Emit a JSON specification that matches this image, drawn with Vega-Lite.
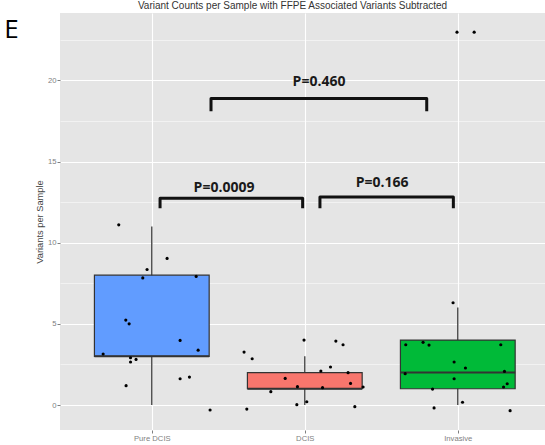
{
  "$schema": "https://vega.github.io/schema/vega-lite/v6.json",
  "width": 485,
  "height": 417,
  "autosize": "none",
  "padding": {"left": 60, "top": 13, "right": 0, "bottom": 15},
  "background": "white",
  "title": {
    "text": "Variant Counts per Sample with FFPE Associated Variants Subtracted",
    "font": "Liberation Sans",
    "fontSize": 10,
    "fontWeight": "normal",
    "color": "#333333",
    "anchor": "middle",
    "dx": -10,
    "offset": 2
  },
  "config": {
    "view": {"fill": "#E5E5E5", "stroke": null},
    "axis": {
      "labelFont": "Liberation Sans",
      "titleFont": "Liberation Sans",
      "labelColor": "#7F7F7F",
      "tickColor": "#7F7F7F",
      "domain": false
    }
  },
  "datasets": {
    "box": [
      {"group": "Pure DCIS", "bx": 1, "lower": 0, "q1": 3, "median": 3, "q3": 8, "upper": 11},
      {"group": "DCIS", "bx": 2, "lower": 0, "q1": 1, "median": 1, "q3": 2, "upper": 3},
      {"group": "Invasive", "bx": 3, "lower": 0, "q1": 1, "median": 2, "q3": 4, "upper": 6}
    ],
    "pts": [
      {"group": "Pure DCIS", "bx": 0.784, "value": 11.10},
      {"group": "Pure DCIS", "bx": 1.100, "value": 9.03},
      {"group": "Pure DCIS", "bx": 0.969, "value": 8.35},
      {"group": "Pure DCIS", "bx": 0.941, "value": 7.83},
      {"group": "Pure DCIS", "bx": 1.290, "value": 7.92},
      {"group": "Pure DCIS", "bx": 0.830, "value": 5.23},
      {"group": "Pure DCIS", "bx": 0.852, "value": 5.00},
      {"group": "Pure DCIS", "bx": 1.185, "value": 3.98},
      {"group": "Pure DCIS", "bx": 1.303, "value": 3.38},
      {"group": "Pure DCIS", "bx": 0.682, "value": 3.14},
      {"group": "Pure DCIS", "bx": 0.861, "value": 2.91},
      {"group": "Pure DCIS", "bx": 0.861, "value": 2.65},
      {"group": "Pure DCIS", "bx": 0.897, "value": 2.81},
      {"group": "Pure DCIS", "bx": 1.185, "value": 1.62},
      {"group": "Pure DCIS", "bx": 1.246, "value": 1.72},
      {"group": "Pure DCIS", "bx": 0.832, "value": 1.19},
      {"group": "Pure DCIS", "bx": 1.381, "value": -0.31},
      {"group": "DCIS", "bx": 1.603, "value": 3.26},
      {"group": "DCIS", "bx": 1.656, "value": 2.85},
      {"group": "DCIS", "bx": 1.995, "value": 4.00},
      {"group": "DCIS", "bx": 2.203, "value": 3.94},
      {"group": "DCIS", "bx": 2.250, "value": 3.71},
      {"group": "DCIS", "bx": 2.168, "value": 2.34},
      {"group": "DCIS", "bx": 2.105, "value": 2.09},
      {"group": "DCIS", "bx": 2.283, "value": 1.99},
      {"group": "DCIS", "bx": 1.872, "value": 1.64},
      {"group": "DCIS", "bx": 2.299, "value": 1.33},
      {"group": "DCIS", "bx": 1.778, "value": 0.82},
      {"group": "DCIS", "bx": 1.952, "value": 1.13},
      {"group": "DCIS", "bx": 2.116, "value": 1.07},
      {"group": "DCIS", "bx": 2.381, "value": 1.11},
      {"group": "DCIS", "bx": 2.013, "value": 0.20},
      {"group": "DCIS", "bx": 1.948, "value": 0.02},
      {"group": "DCIS", "bx": 1.621, "value": -0.25},
      {"group": "DCIS", "bx": 2.327, "value": -0.10},
      {"group": "Invasive", "bx": 2.969, "value": 6.30},
      {"group": "Invasive", "bx": 2.660, "value": 3.71},
      {"group": "Invasive", "bx": 2.773, "value": 3.86},
      {"group": "Invasive", "bx": 2.812, "value": 3.69},
      {"group": "Invasive", "bx": 3.281, "value": 3.71},
      {"group": "Invasive", "bx": 2.976, "value": 2.65},
      {"group": "Invasive", "bx": 3.050, "value": 2.28},
      {"group": "Invasive", "bx": 2.656, "value": 1.93},
      {"group": "Invasive", "bx": 3.305, "value": 2.07},
      {"group": "Invasive", "bx": 2.976, "value": 1.62},
      {"group": "Invasive", "bx": 3.323, "value": 1.31},
      {"group": "Invasive", "bx": 3.299, "value": 1.11},
      {"group": "Invasive", "bx": 2.835, "value": 0.98},
      {"group": "Invasive", "bx": 3.031, "value": 0.17},
      {"group": "Invasive", "bx": 2.845, "value": -0.18},
      {"group": "Invasive", "bx": 3.342, "value": -0.35},
      {"group": "Invasive", "bx": 2.995, "value": 22.97},
      {"group": "Invasive", "bx": 3.107, "value": 22.97}
    ],
    "brk": [
      {"pair": "a", "ord": 1, "bx": 1.054, "by": 12.12},
      {"pair": "a", "ord": 2, "bx": 1.054, "by": 12.74},
      {"pair": "a", "ord": 3, "bx": 1.986, "by": 12.74},
      {"pair": "a", "ord": 4, "bx": 1.986, "by": 12.12},
      {"pair": "b", "ord": 1, "bx": 2.099, "by": 12.12},
      {"pair": "b", "ord": 2, "bx": 2.099, "by": 12.82},
      {"pair": "b", "ord": 3, "bx": 2.971, "by": 12.82},
      {"pair": "b", "ord": 4, "bx": 2.971, "by": 12.12},
      {"pair": "c", "ord": 1, "bx": 1.387, "by": 18.09},
      {"pair": "c", "ord": 2, "bx": 1.387, "by": 18.89},
      {"pair": "c", "ord": 3, "bx": 2.797, "by": 18.89},
      {"pair": "c", "ord": 4, "bx": 2.797, "by": 18.09}
    ],
    "lbl": [
      {"label": "P=0.0009", "bx": 1.472, "by": 13.35},
      {"label": "P=0.166", "bx": 2.505, "by": 13.66},
      {"label": "P=0.460", "bx": 2.093, "by": 19.88}
    ],
    "panel": [
      {"label": "E", "bx": 0.083, "by": 23.1}
    ]
  },
  "encoding": {
    "x": {
      "field": "bx",
      "type": "quantitative",
      "scale": {"domain": [0.4, 3.57], "nice": false, "zero": false, "padding": 0},
      "axis": {
        "values": [1, 2, 3],
        "labelExpr": "datum.value == 1 ? 'Pure DCIS' : datum.value == 2 ? 'DCIS' : 'Invasive'",
        "title": null,
        "labelFontSize": 7.7,
        "labelPadding": 1.5,
        "labelFlush": false,
        "labelOverlap": false,
        "tickSize": 3,
        "grid": true,
        "gridColor": "white",
        "gridWidth": 1.1
      }
    }
  },
  "layer": [
    {
      "encoding": {
        "y": {
          "field": "by",
          "type": "quantitative",
          "scale": {"domain": [-1.54, 24.15], "nice": false, "zero": false},
          "axis": {
            "values": [2.5, 7.5, 12.5, 17.5, 22.5],
            "orient": "right",
            "grid": true,
            "gridColor": "white",
            "gridWidth": 0.5,
            "labels": false,
            "ticks": false,
            "domain": false,
            "title": null
          }
        }
      },
      "layer": [
        {
          "data": {"name": "brk"},
          "mark": {"type": "line", "color": "#111111", "strokeWidth": 3, "strokeJoin": "round"},
          "encoding": {
            "detail": {"field": "pair", "type": "nominal"},
            "order": {"field": "ord", "type": "quantitative"}
          }
        },
        {
          "data": {"name": "lbl"},
          "mark": {"type": "text", "font": "Open Sans", "fontSize": 14, "fontWeight": "bold", "color": "#1a1a1a", "baseline": "middle", "align": "center"},
          "encoding": {"text": {"field": "label"}}
        },
        {
          "data": {"name": "panel"},
          "mark": {"type": "text", "font": "Open Sans", "fontSize": 26, "color": "black", "baseline": "middle", "align": "center"},
          "encoding": {"text": {"field": "label"}}
        }
      ]
    },
    {
      "layer": [
        {
          "data": {"name": "box"},
          "mark": {"type": "rule", "color": "#3a3a3a", "strokeWidth": 1.3},
          "encoding": {
            "y": {
              "field": "lower",
              "type": "quantitative",
              "scale": {"domain": [-1.54, 24.15], "nice": false, "zero": false},
              "axis": {
                "orient": "left",
                "values": [0, 5, 10, 15, 20],
                "title": "Variants per Sample",
                "titleFontSize": 9.3,
                "titleFontWeight": "normal",
                "titleColor": "#444444",
                "titlePadding": 3,
                "labelFontSize": 7.7,
                "labelPadding": 1,
                "tickSize": 3,
                "grid": true,
                "gridColor": "white",
                "gridWidth": 1.1
              }
            },
            "y2": {"field": "upper"}
          }
        },
        {
          "data": {"name": "box"},
          "mark": {"type": "bar", "width": 114.75, "stroke": "#333333", "strokeWidth": 1.2, "orient": "vertical"},
          "encoding": {
            "y": {"field": "q1", "type": "quantitative"},
            "y2": {"field": "q3"},
            "color": {
              "field": "group",
              "type": "nominal",
              "scale": {"domain": ["Pure DCIS", "DCIS", "Invasive"], "range": ["#619CFF", "#F8766D", "#00BA38"]},
              "legend": null
            }
          }
        },
        {
          "data": {"name": "box"},
          "mark": {"type": "bar", "width": 114.75, "stroke": "#333333", "strokeWidth": 2, "fillOpacity": 0, "orient": "vertical"},
          "encoding": {
            "y": {"field": "median", "type": "quantitative"},
            "y2": {"field": "median"}
          }
        },
        {
          "data": {"name": "pts"},
          "mark": {"type": "circle", "color": "black", "size": 10, "opacity": 1},
          "encoding": {
            "y": {"field": "value", "type": "quantitative"}
          }
        }
      ]
    }
  ],
  "resolve": {"scale": {"y": "independent"}}
}
